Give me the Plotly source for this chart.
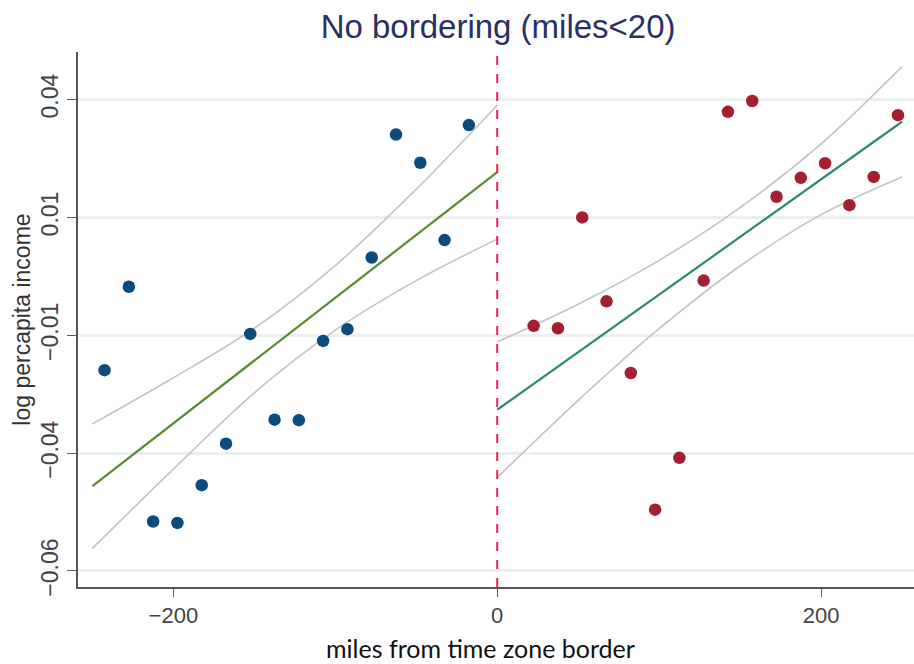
import plotly.graph_objects as go

# ---- data ----
left_x = [-242.5, -227.5, -212.5, -197.5, -182.5, -167.5, -152.5, -137.5,
          -122.5, -107.5, -92.5, -77.5, -62.5, -47.5, -32.5, -17.5]
left_y = [-0.0174, 0.0003, -0.0495, -0.0498, -0.0418, -0.0330, -0.0097, -0.0279,
          -0.0280, -0.0112, -0.0087, 0.0065, 0.0326, 0.0266, 0.0102, 0.0346]

right_x = [22.5, 37.5, 52.5, 67.5, 82.5, 97.5, 112.5, 127.5,
           142.5, 157.5, 172.5, 187.5, 202.5, 217.5, 232.5, 247.5]
right_y = [-0.0080, -0.0085, 0.0150, -0.0028, -0.0180, -0.0470, -0.0360, 0.0016,
           0.0374, 0.0397, 0.0194, 0.0234, 0.0265, 0.0176, 0.0236, 0.0367]

left_fit_x = [-250, 0]
left_fit_y = [-0.0420, 0.0246]
left_ci_x = [-250, -200, -150, -100, -50, 0]
left_ci_hi = [-0.0288, -0.0190, -0.0085, 0.0048, 0.0210, 0.0388]
left_ci_lo = [-0.0552, -0.0384, -0.0222, -0.0089, 0.0016, 0.0104]

right_fit_x = [0, 250]
right_fit_y = [-0.0258, 0.0353]
right_ci_x = [0, 50, 100, 150, 200, 250]
right_ci_hi = [-0.0114, -0.0034, 0.0059, 0.0171, 0.0306, 0.0470]
right_ci_lo = [-0.0402, -0.0238, -0.0086, 0.0047, 0.0156, 0.0236]

y_tickvals = [0.04, 0.015, -0.01, -0.035, -0.06]
y_ticktext = ["0.04", "0.01", "\u22120.01", "\u22120.04", "\u22120.06"]
x_tickvals = [-200, 0, 200]
x_ticktext = ["\u2212200", "0", "200"]

title_text = "No bordering (miles<20)"
x_title = "miles from time zone border"
y_title = "log percapita income"

# ---- figure ----
CI_COLOR = "#c4c4c4"
fig = go.Figure()

for cx, hi, lo in [(left_ci_x, left_ci_hi, left_ci_lo), (right_ci_x, right_ci_hi, right_ci_lo)]:
    for arr in (hi, lo):
        fig.add_trace(go.Scatter(x=cx, y=arr, mode="lines",
                                 line=dict(color=CI_COLOR, width=1.6, shape="spline", smoothing=1.0),
                                 hoverinfo="skip", showlegend=False))

fig.add_trace(go.Scatter(x=left_fit_x, y=left_fit_y, mode="lines",
                         line=dict(color="#5b8a2d", width=2.2), showlegend=False))
fig.add_trace(go.Scatter(x=right_fit_x, y=right_fit_y, mode="lines",
                         line=dict(color="#2f8a6a", width=2.2), showlegend=False))

fig.add_trace(go.Scatter(x=left_x, y=left_y, mode="markers",
                         marker=dict(color="#0d4a7e", size=12.5, line=dict(width=0)),
                         showlegend=False))
fig.add_trace(go.Scatter(x=right_x, y=right_y, mode="markers",
                         marker=dict(color="#a31f31", size=12.5, line=dict(width=0)),
                         showlegend=False))

fig.add_shape(type="line", xref="x", yref="paper", x0=0, x1=0, y0=0, y1=1,
              line=dict(color="#e8274d", width=2, dash="dash"))

fig.update_layout(
    width=914, height=664,
    margin=dict(l=78, r=0, t=52, b=77),
    paper_bgcolor="white", plot_bgcolor="white",
    font=dict(family="Liberation Sans, Arial, sans-serif", color="#333333", size=21),
    title=dict(text=title_text, x=0.545, xanchor="center", y=0.96, yanchor="middle",
               font=dict(family="Liberation Sans, Arial, sans-serif", size=33, color="#2a2f66")),
    xaxis=dict(range=[-258.9, 257.4], tickvals=x_tickvals, ticktext=x_ticktext,
               showgrid=False, zeroline=False, showline=True, linecolor="#555555", linewidth=1.6,
               ticks="outside", ticklen=8, tickcolor="#555555", tickwidth=1.4,
               tickfont=dict(size=22, color="#444444")),
    yaxis=dict(range=[-0.0634, 0.0501], tickvals=y_tickvals, ticktext=y_ticktext,
               tickangle=-90, showgrid=True, gridcolor="#ebefef", gridwidth=2.5,
               zeroline=False, showline=True, linecolor="#555555", linewidth=1.6,
               ticks="outside", ticklen=9, tickcolor="#555555", tickwidth=1.4,
               tickfont=dict(size=23, color="#444444")),
    annotations=[
        dict(text=x_title, xref="paper", yref="paper", x=0.481, y=-0.114,
             xanchor="center", yanchor="middle", showarrow=False,
             font=dict(family="Lato, Open Sans, sans-serif", size=25, color="#111111")),
        dict(text=y_title, xref="paper", yref="paper", x=-0.068, y=0.5,
             xanchor="center", yanchor="middle", showarrow=False, textangle=-90,
             font=dict(family="Liberation Sans, Arial, sans-serif", size=23, color="#333333")),
    ],
)

fig.write_html("out.html")
